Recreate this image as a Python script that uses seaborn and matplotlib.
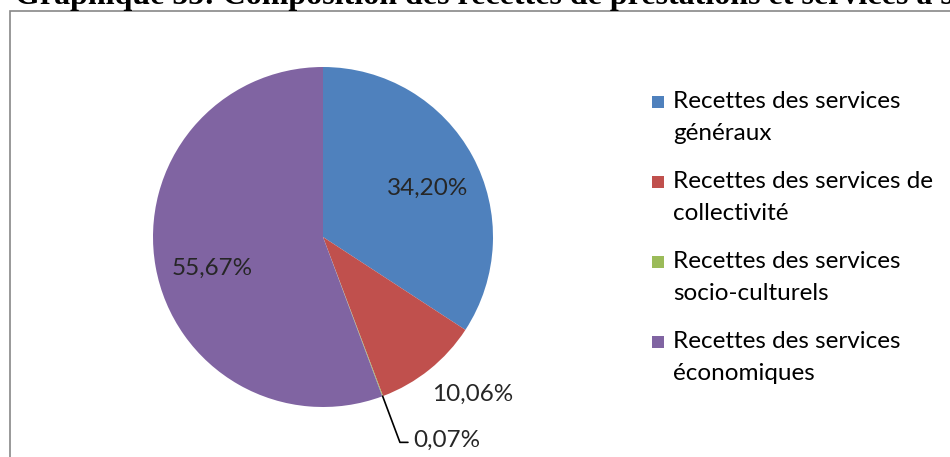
import numpy as np
import matplotlib
matplotlib.use("Agg")
import matplotlib.pyplot as plt
from matplotlib.patches import Rectangle
import seaborn as sns

# Composition of revenue from services (shares in %)
categories = [
    "Recettes des services généraux",
    "Recettes des services de collectivité",
    "Recettes des services socio-culturels",
    "Recettes des services économiques",
]
legend_lines = [
    ["Recettes des services", "généraux"],
    ["Recettes des services de", "collectivité"],
    ["Recettes des services", "socio-culturels"],
    ["Recettes des services", "économiques"],
]
shares = [34.20, 10.06, 0.07, 55.67]
share_labels = ["34,20%", "10,06%", "0,07%", "55,67%"]
colors = ["#4F81BD", "#C0504D", "#9BBB59", "#8064A2"]

sns.set_theme(style="white")
palette = sns.color_palette(colors)
plt.rcParams["font.family"] = ["Lato", "DejaVu Sans"]

W, H = 950, 457
fig = plt.figure(figsize=(W / 100, H / 100), dpi=100)
ax = fig.add_axes([0, 0, 1, 1])

cx, cy, R = 323, H - 237, 170
wedges, _ = ax.pie(shares, colors=palette, startangle=90, counterclock=False,
                   center=(cx, cy), radius=R,
                   wedgeprops=dict(linewidth=0))
ax.set_xlim(0, W)
ax.set_ylim(0, H)
ax.set_aspect("equal")
ax.axis("off")

# chart-area frame (only its top and left edges fall inside the page)
ax.add_patch(Rectangle((10, -40), 1200, H - 11 + 40, fill=False,
                       edgecolor="#878787", linewidth=1.2, clip_on=True))

# title, partly cut off by the top of the page
ax.text(15, H - 4, "Graphique 55: Composition des recettes de prestations et services à s",
        fontsize=23, fontweight="bold", family=["Liberation Serif"],
        ha="left", va="baseline", color="black")

# data labels: radial distance (in radii) and a small nudge in pixels
label_fs = 17.5
dist = [0.68, 1.27, 1.29, 0.68]
nudge = [(3, -6), (14, 11), (0, 0), (3, -11)]
for w, lab, d, v, (nx, ny) in zip(wedges, share_labels, dist, shares, nudge):
    mid = np.deg2rad((w.theta1 + w.theta2) / 2)
    x = cx + d * R * np.cos(mid)
    y = cy + d * R * np.sin(mid)
    if v < 1:
        # leader line for the tiny slice
        x0 = cx + R * np.cos(mid)
        y0 = cy + R * np.sin(mid)
        ax.plot([x0, x, x + 8], [y0, y, y], color="black", linewidth=1.2)
        ax.text(x + 13, y + 2, lab, fontsize=label_fs, ha="left", va="center")
    else:
        ax.text(x + nx, y + ny, lab, fontsize=label_fs, ha="center", va="center")

# legend
for i, (lines, col) in enumerate(zip(legend_lines, palette)):
    base = 108 + 80 * i
    ax.add_patch(Rectangle((652, H - base), 12, 12, facecolor=col, edgecolor="none"))
    for j, line in enumerate(lines):
        ax.text(673, H - (base + 32 * j), line, fontsize=label_fs,
                ha="left", va="baseline", color="black")

fig.savefig("out.png", dpi=100)
